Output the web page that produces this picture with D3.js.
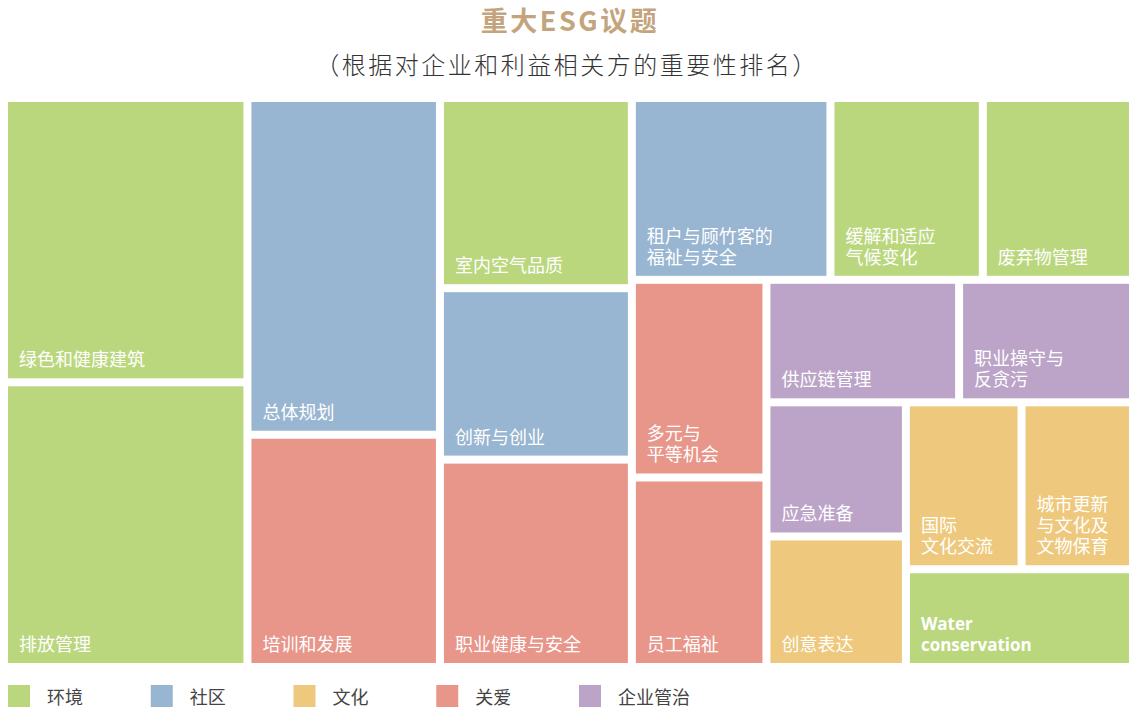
<!DOCTYPE html>
<html>
<head>
<meta charset="utf-8">
<script src="https://cdnjs.cloudflare.com/ajax/libs/d3/7.8.5/d3.min.js"></script>
<style>
    body { margin: 0; background: #fff; }
    svg text { font-family: "Noto Sans CJK SC", "Noto Sans", sans-serif; }
</style>
</head>
<body>
<div id="treemap"></div>
<script>
// topics, their pillar and the area each one takes in the picture
var topics = ["绿色和健康建筑", "排放管理", "总体规划", "培训和发展", "室内空气品质", "创新与创业",
    "职业健康与安全", "租户与顾竹客的\n福祉与安全", "缓解和适应\n气候变化", "废弃物管理", "多元与\n平等机会",
    "员工福祉", "供应链管理", "职业操守与\n反贪污", "应急准备", "创意表达", "国际\n文化交流",
    "城市更新\n与文化及\n文物保育", "Water\nconservation"];
var topicGroup = ["环境", "环境", "社区", "关爱", "环境", "社区", "关爱", "社区", "环境", "环境", "关爱",
    "关爱", "企业管治", "企业管治", "企业管治", "文化", "文化", "文化", "环境"];
var topicValue = [69.2, 69.3, 64.8, 44.7, 36.5, 32.9, 39.8, 36.1, 27.7, 27.3, 26.6,
    25.5, 23.6, 21.3, 18.7, 18.2, 19.3, 18.6, 22.2];

// how the topics are nested (indices into the arrays above)
var nesting = [[0, 1], [2, 3], [4, 5, 6],
    [[7, 8, 9], [[10, 11], [[12, 13], [[14, 15], [[16, 17], 18]]]]]];

var groups = ["环境", "社区", "文化", "关爱", "企业管治"];
var groupColors = ["#bad77e", "#98b5d1", "#eec87c", "#e8958a", "#bca4c8"];

var width = 1129, height = 709;
var margin = {top: 102, left: 8, right: 0, bottom: 46};

var color = d3.scaleOrdinal().domain(groups).range(groupColors);

function buildNode(n) {
    if (Array.isArray(n)) {
        return {children: n.map(buildNode)};
    }
    return {name: topics[n], group: topicGroup[n], value: topicValue[n]};
}

var svg = d3.select("#treemap").append("svg")
    .attr("width", width)
    .attr("height", height);

// titles
svg.append("text")
    .text("重大ESG议题")
    .attr("x", 570)
    .attr("y", 30.5)
    .attr("text-anchor", "middle")
    .style("font-size", "27px")
    .style("font-weight", "bold")
    .style("letter-spacing", "2.5px")
    .style("fill", "#c3a47c");

svg.append("text")
    .text("（根据对企业和利益相关方的重要性排名）")
    .attr("x", 567)
    .attr("y", 73.5)
    .attr("text-anchor", "middle")
    .style("font-size", "24px")
    .style("font-weight", 300)
    .style("letter-spacing", "2.5px")
    .style("fill", "#333");

var root = d3.hierarchy(buildNode(nesting))
    .sum(function(d){ return d.children ? 0 : d.value; });

d3.treemap()
    .tile(d3.treemapSliceDice)
    .size([width - margin.left - margin.right, height - margin.top - margin.bottom])
    .paddingInner(8)(root);

var g = svg.append("g")
    .attr("transform", "translate(" + margin.left + "," + margin.top + ")");

var cell = g.selectAll(".cell")
    .data(root.leaves())
    .enter().append("g")
    .attr("class", "cell")
    .attr("transform", function(d){ return "translate(" + d.x0 + "," + d.y0 + ")"; });

cell.append("rect")
    .attr("width", function(d){ return d.x1 - d.x0; })
    .attr("height", function(d){ return d.y1 - d.y0; })
    .style("fill", function(d){ return color(d.data.group); });

// one text per cell, lines stacked upward from the bottom-left corner
cell.each(function(d){
    var lines = d.data.name.split("\n");
    var latin = /^[A-Za-z]/.test(d.data.name);
    var h = d.y1 - d.y0;
    var label = d3.select(this).append("text")
        .attr("y", h - 12 - (lines.length - 1) * 21)
        .style("font-size", latin ? "17px" : "18px")
        .style("font-family", latin ? "'Open Sans', sans-serif" : null)
        .style("font-weight", latin ? "bold" : null)
        .style("fill", "#fff");
    label.selectAll("tspan")
        .data(lines)
        .enter().append("tspan")
        .attr("x", 11)
        .attr("dy", function(t, i){ return i === 0 ? 0 : 21; })
        .text(function(t){ return t; });
});

// legend
var legendX = d3.scaleBand().domain(groups).range([8, 8 + groups.length * 142.75]);

var legend = svg.selectAll(".legend")
    .data(groups)
    .enter().append("g")
    .attr("class", "legend")
    .attr("transform", function(d){ return "translate(" + legendX(d) + ",685)"; });

legend.append("rect")
    .attr("width", 22)
    .attr("height", 22)
    .style("fill", function(d){ return color(d); });

legend.append("text")
    .text(function(d){ return d; })
    .attr("x", 39)
    .attr("y", 18.5)
    .style("font-size", "18px")
    .style("fill", "#444");
</script>
</body>
</html>
